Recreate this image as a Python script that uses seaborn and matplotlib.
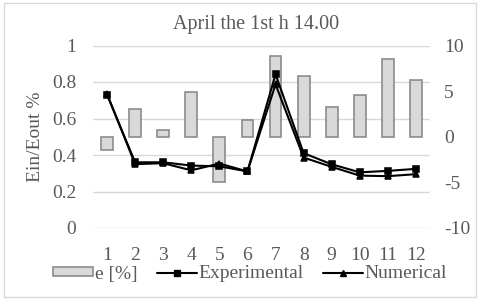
import matplotlib
matplotlib.use("Agg")
import matplotlib.pyplot as plt
import seaborn as sns
import pandas as pd
from matplotlib.patches import Rectangle, Patch
from matplotlib.lines import Line2D

categories = [str(i) for i in range(1, 13)]
e_percent = [-1.5, 3.0, 0.7, 4.9, -5.0, 1.8, 8.9, 6.7, 3.3, 4.6, 8.5, 6.2]
experimental = [0.73, 0.36, 0.36, 0.342, 0.338, 0.31, 0.842, 0.41, 0.349, 0.305, 0.313, 0.324]
numerical = [0.735, 0.35, 0.355, 0.316, 0.353, 0.31, 0.787, 0.386, 0.335, 0.287, 0.284, 0.295]
left_ticks = [0, 0.2, 0.4, 0.6, 0.8, 1]
right_ticks = [-10, -5, 0, 5, 10]

sns.set_theme(style="white")
plt.rcParams['font.family'] = ['Liberation Serif', 'DejaVu Serif']
TXT = '#595959'
GRID = '#d9d9d9'
FS = 14

fig = plt.figure(figsize=(4.8, 3.03), dpi=100)
ax = fig.add_axes([93/480, 1-228/303, (430-93)/480, (228-45.5)/303])
ax_bar = ax.twinx()
ax_line = ax.twinx()

# primary: grid + left ticks
ax.set_ylim(0, 1)
ax.set_yticks(left_ticks)
ax.set_yticklabels([f"{t:g}" for t in left_ticks])
ax.grid(axis='y', color=GRID, linewidth=1)
ax.grid(axis='x', visible=False)
ax.set_ylabel("Ein/Eout %", fontsize=FS, color=TXT, labelpad=6)

# bars
df_bar = pd.DataFrame({"cat": categories, "e": e_percent})
sns.barplot(data=df_bar, x="cat", y="e", ax=ax_bar, color='#d9d9d9',
            edgecolor='#8c8c8c', linewidth=1.2, width=0.42, saturation=1)
ax_bar.set_ylim(-10, 10)
ax_bar.set_yticks(right_ticks)
ax_bar.set_yticklabels([str(t) for t in right_ticks])
ax_bar.set_ylabel("")
ax_bar.grid(False)

# lines
df_line = pd.DataFrame({
    "cat": categories * 2,
    "val": experimental + numerical,
    "series": ["Experimental"] * 12 + ["Numerical"] * 12,
})
sns.pointplot(data=df_line, x="cat", y="val", hue="series", ax=ax_line,
              palette=['black', 'black'], markers=['s', '^'], linestyles=['-', '-'],
              markersize=5, linewidth=1.5, legend=False)
ax_line.set_ylim(0, 1)
ax_line.set_yticks([])
ax_line.set_ylabel("")
ax_line.grid(False)

ax.set_xlim(-0.5, 11.5)
ax.set_xlabel("")
ax_bar.set_xlabel("")
ax_line.set_xlabel("")
ax.set_xticks(range(12))
ax.set_xticklabels(categories)

for a in (ax, ax_bar, ax_line):
    for s in a.spines.values():
        s.set_visible(False)
    a.tick_params(length=0, labelsize=FS, labelcolor=TXT)
ax.tick_params(axis='y', pad=12)
ax.tick_params(axis='x', pad=14)
ax_bar.tick_params(axis='y', pad=10)

fig.text(256/480, 1-25/303, "April the 1st h 14.00", ha='center', va='center',
         fontsize=14.5, color=TXT)

handles = [
    Patch(facecolor='#d9d9d9', edgecolor='#8c8c8c', linewidth=1.2),
    Line2D([0], [0], color='black', marker='s', markersize=5, linewidth=1.5),
    Line2D([0], [0], color='black', marker='^', markersize=5, linewidth=1.5),
]
leg = fig.legend(handles, ["e [%]", "Experimental", "Numerical"], loc='center',
                 bbox_to_anchor=(250/480, 1-274/303), ncol=3, frameon=False,
                 fontsize=FS, handlelength=2.05, handleheight=0.4,
                 handletextpad=0.08, columnspacing=1.0)
for t in leg.get_texts():
    t.set_color(TXT)

fig.patches.append(Rectangle((4/480, 1-297/303), 472/480, 294/303, transform=fig.transFigure,
                             fill=False, edgecolor=GRID, linewidth=1))

fig.savefig("out.png", dpi=100)
